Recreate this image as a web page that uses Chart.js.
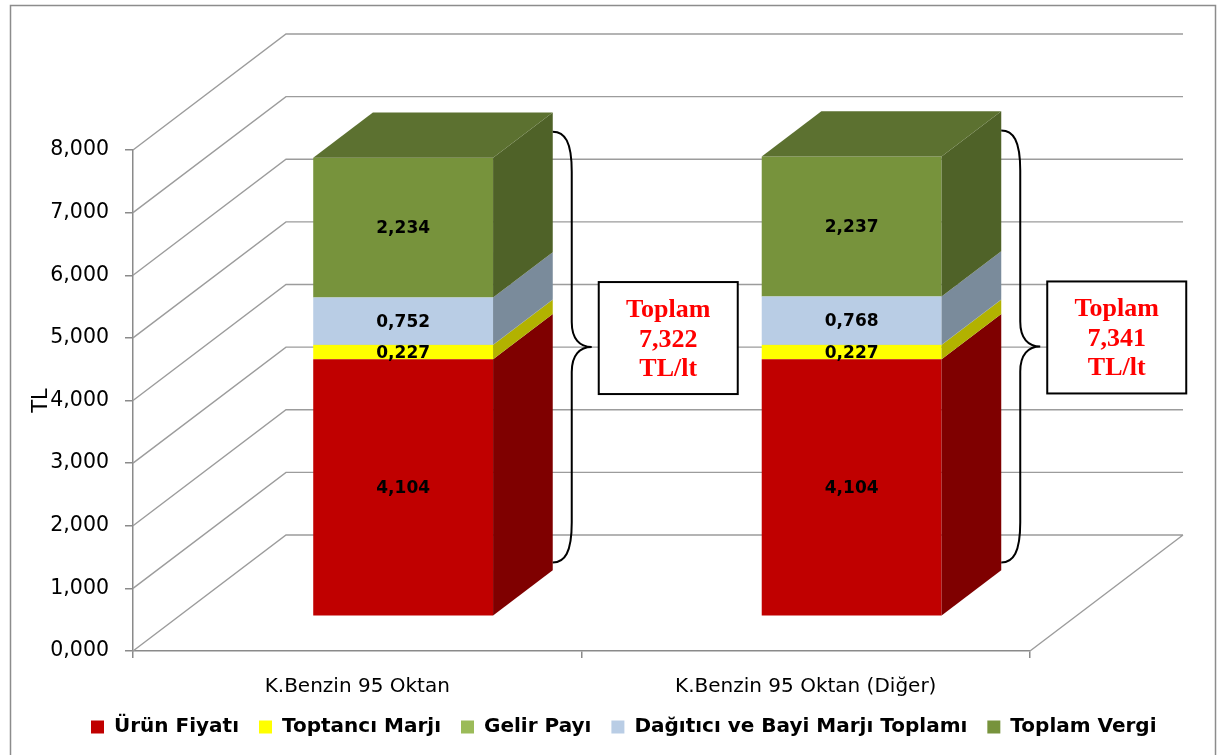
<!DOCTYPE html>
<html>
<head>
<meta charset="utf-8">
<script src="https://cdn.jsdelivr.net/npm/chart.js@4.4.1/dist/chart.umd.min.js"></script>
<style>
  html, body { margin: 0; padding: 0; background: #fff; }
</style>
</head>
<body>
<canvas id="fuelChart" width="1219" height="755"></canvas>
<script>
// data
const categories = ["K.Benzin 95 Oktan", "K.Benzin 95 Oktan (Diğer)"];
const seriesNames = ["Ürün Fiyatı", "Toptancı Marjı", "Gelir Payı", "Dağıtıcı ve Bayi Marjı Toplamı", "Toplam Vergi"];
const urunFiyati = [4.104, 4.104];
const toptanciMarji = [0.227, 0.227];
const gelirPayi = [0.005, 0.005];
const dagiticiBayi = [0.752, 0.768];
const toplamVergi = [2.234, 2.237];
const totals = ["7,322", "7,341"];
const yTicks = [0, 1, 2, 3, 4, 5, 6, 7, 8];

// colours: front, side, top
const frontColors = ["#C00000", "#FFFF00", "#9BBB59", "#B9CDE5", "#77933C"];
const sideColors = ["#7F0000", "#B2B200", "#6E8A3A", "#7A8B9B", "#4F6228"];
const topColors = ["#A00000", "#D8D800", "#839F4A", "#9AAABF", "#5C7130"];

const DEPTH = { x: 153, y: -116 };   // full depth of the 3D box
const BAR_POS = 0.3;                 // where the bar front sits in the depth
const BAR_DEPTH = 0.39;              // bar thickness in the depth
const GRID = "#9c9c9c";
const AXIS = "#8a8a8a";

const fmt = (v) => v.toFixed(3).replace(".", ",");

const box3d = {
    id: "box3d",
    beforeDraw(chart) {
        const c = chart.ctx;
        c.save();
        c.fillStyle = "#fff";
        c.fillRect(0, 0, chart.width, chart.height);
        c.strokeStyle = "#8c8c8c";
        c.lineWidth = 1.5;
        c.strokeRect(10.5, 5.5, 1205, 800);
        c.restore();
    },
    afterLayout(chart) {
        // legend row starts near the left border like the original
        chart.legend.left = 71;
    },
    beforeDatasetsDraw(chart) {
        const c = chart.ctx;
        const { left, right, bottom } = chart.chartArea;
        const ys = chart.scales.y;
        c.save();
        c.strokeStyle = GRID;
        c.lineWidth = 1.4;
        c.beginPath();
        yTicks.forEach((v) => {
            const py = ys.getPixelForValue(v);
            c.moveTo(left, py);
            c.lineTo(left + DEPTH.x, py + DEPTH.y);
            c.lineTo(right + DEPTH.x, py + DEPTH.y);
        });
        c.moveTo(right, bottom);
        c.lineTo(right + DEPTH.x, bottom + DEPTH.y);
        c.stroke();
        c.restore();

        // move bars into the middle of the depth
        c.save();
        c.translate(DEPTH.x * BAR_POS, DEPTH.y * BAR_POS);
    },
    afterDatasetsDraw(chart) {
        const c = chart.ctx;
        const dx = DEPTH.x * BAR_DEPTH, dy = DEPTH.y * BAR_DEPTH;
        const metas = chart.getSortedVisibleDatasetMetas();
        const last = metas.length - 1;

        metas.forEach((meta, di) => {
            meta.data.forEach((bar) => {
                const { x, y, base, width } = bar.getProps(["x", "y", "base", "width"], true);
                const l = x - width / 2, r = x + width / 2;
                const t = Math.min(y, base), b = Math.max(y, base);
                c.fillStyle = sideColors[di];
                c.beginPath();
                c.moveTo(r, t);
                c.lineTo(r + dx, t + dy);
                c.lineTo(r + dx, b + dy);
                c.lineTo(r, b);
                c.closePath();
                c.fill();
                if (di === last) {
                    c.fillStyle = topColors[di];
                    c.beginPath();
                    c.moveTo(l, t);
                    c.lineTo(l + dx, t + dy);
                    c.lineTo(r + dx, t + dy);
                    c.lineTo(r, t);
                    c.closePath();
                    c.fill();
                }
            });
        });

        // value labels
        c.fillStyle = "#000";
        c.font = "bold 17px 'DejaVu Sans'";
        c.textAlign = "center";
        c.textBaseline = "middle";
        metas.forEach((meta, di) => {
            const values = chart.data.datasets[meta.index].data;
            meta.data.forEach((bar, i) => {
                if (values[i] < 0.05) return;
                const { x, y, base } = bar.getProps(["x", "y", "base"], true);
                c.fillText(fmt(values[i]), x, (y + base) / 2 + 1);
            });
        });
        c.restore();

        // braces + total boxes
        const tx = DEPTH.x * BAR_POS, ty = DEPTH.y * BAR_POS;
        const first = metas[0], top = metas[last];
        categories.forEach((cat, i) => {
            const tb = top.data[i].getProps(["x", "y", "width"], true);
            const fb = first.data[i].getProps(["base"], true);
            const x0 = tb.x + tb.width / 2 + tx + dx;
            const bt = tb.y + ty - 26;
            const bb = fb.base + ty - 53;
            const xm = x0 + 19, xt = x0 + 39;
            const tipY = (bt + bb) / 2;

            c.save();
            c.strokeStyle = "#000";
            c.lineWidth = 2;
            c.beginPath();
            c.moveTo(x0, bt);
            c.bezierCurveTo(x0 + 12, bt, xm, bt + 10, xm, bt + 40);
            c.lineTo(xm, tipY - 25);
            c.bezierCurveTo(xm, tipY - 8, xm + 8, tipY, xt, tipY);
            c.bezierCurveTo(xm + 8, tipY, xm, tipY + 8, xm, tipY + 25);
            c.lineTo(xm, bb - 40);
            c.bezierCurveTo(xm, bb - 10, x0 + 12, bb, x0, bb);
            c.stroke();

            const bx = xt + 7, bw = 139, bh = 112;
            const by = tipY - 9 - bh / 2;
            c.fillStyle = "#fff";
            c.fillRect(bx, by, bw, bh);
            c.strokeRect(bx, by, bw, bh);

            c.fillStyle = "#FF0000";
            c.font = "bold 26px 'Liberation Serif'";
            c.textAlign = "center";
            c.textBaseline = "middle";
            const cx = bx + bw / 2, cy = by + bh / 2;
            c.fillText("Toplam", cx, cy - 28);
            c.fillText(totals[i], cx, cy + 2);
            c.fillText("TL/lt", cx, cy + 31);
            c.restore();
        });
    },
};

const allSeries = [urunFiyati, toptanciMarji, gelirPayi, dagiticiBayi, toplamVergi];

new Chart(document.getElementById("fuelChart"), {
    type: "bar",
    data: {
        labels: categories,
        datasets: seriesNames.map((name, k) => ({
            label: name,
            data: allSeries[k],
            backgroundColor: frontColors[k],
            borderWidth: 0,
            clip: false,
            barPercentage: 0.401,
            categoryPercentage: 1,
        })),
    },
    options: {
        responsive: false,
        animation: false,
        devicePixelRatio: 1,
        layout: { padding: { top: 150, left: 0, right: 0, bottom: 8 } },
        plugins: {
            legend: {
                position: "bottom",
                align: "start",
                labels: {
                    boxWidth: 13,
                    boxHeight: 13,
                    padding: 20,
                    color: "#000",
                    font: { family: "DejaVu Sans", size: 20, weight: "bold" },
                },
            },
            tooltip: { enabled: false },
        },
        scales: {
            x: {
                stacked: true,
                grid: { offset: true, drawOnChartArea: false, tickLength: 7, color: AXIS, lineWidth: 1.5 },
                border: { color: AXIS, width: 1.5 },
                ticks: { color: "#000", padding: 17, font: { family: "DejaVu Sans", size: 20 } },
                afterFit: (s) => { s.height = 46; },
            },
            y: {
                stacked: true,
                min: 0,
                max: 8,
                afterBuildTicks: (s) => { s.ticks = yTicks.map((v) => ({ value: v })); },
                grid: { drawOnChartArea: false, tickLength: 8, color: AXIS, lineWidth: 1.5 },
                border: { color: AXIS, width: 1.5 },
                ticks: {
                    color: "#000",
                    padding: 16,
                    font: { family: "DejaVu Sans", size: 20.5 },
                    callback: (v) => fmt(v),
                },
                title: {
                    display: true,
                    text: "TL",
                    color: "#000",
                    font: { family: "DejaVu Sans", size: 21 },
                    padding: { top: 29, bottom: 0 },
                },
                afterFit: (s) => { s.width = 133; },
            },
            yPad: {
                position: "right",
                display: true,
                grid: { display: false },
                border: { display: false },
                ticks: { display: false },
                afterFit: (s) => { s.width = 189; },
            },
        },
    },
    plugins: [box3d],
});
</script>
</body>
</html>
